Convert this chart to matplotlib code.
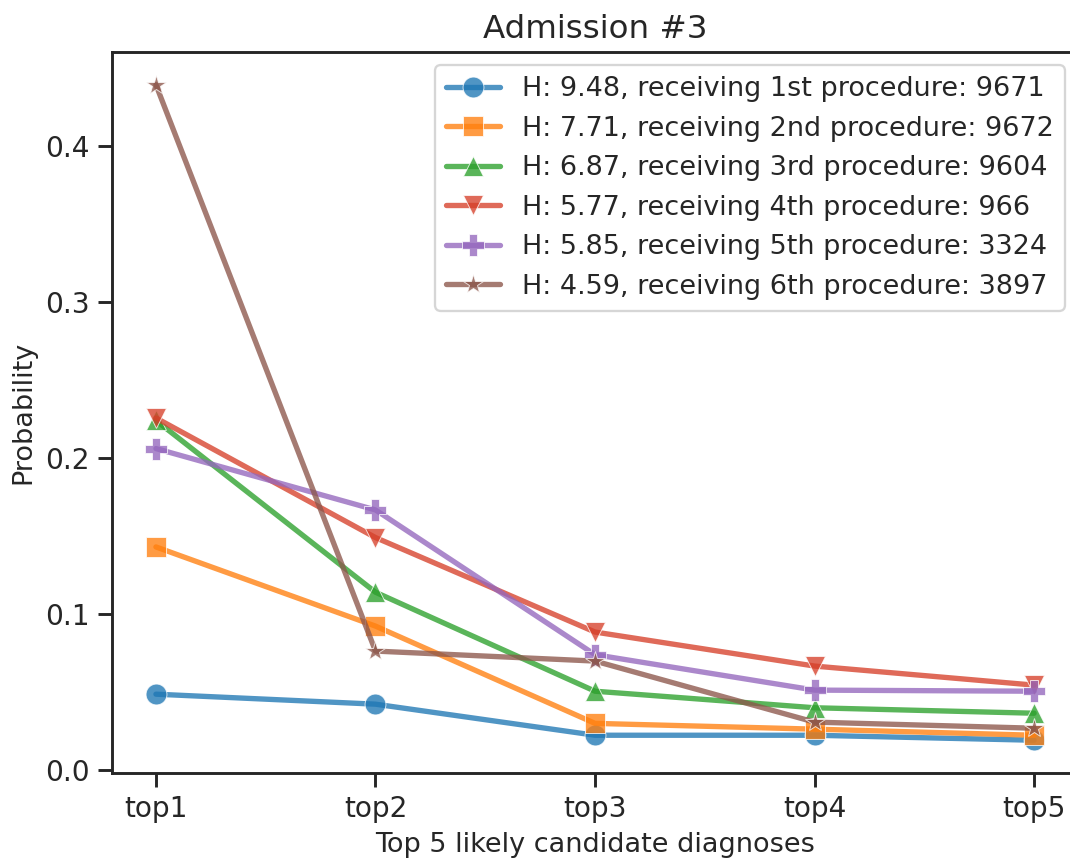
import numpy as np
import matplotlib
matplotlib.use("Agg")
import matplotlib.pyplot as plt
import seaborn as sns

sns.set_theme(style="ticks", context="notebook")
plt.rcParams['font.family'] = ['DejaVu Sans']

candidates = ['top1', 'top2', 'top3', 'top4', 'top5']
labels = [
    'H: 9.48, receiving 1st procedure: 9671',
    'H: 7.71, receiving 2nd procedure: 9672',
    'H: 6.87, receiving 3rd procedure: 9604',
    'H: 5.77, receiving 4th procedure: 966',
    'H: 5.85, receiving 5th procedure: 3324',
    'H: 4.59, receiving 6th procedure: 3897',
]
proc1 = [0.0487, 0.0423, 0.0224, 0.0224, 0.0192]
proc2 = [0.143, 0.0923, 0.0300, 0.0263, 0.0224]
proc3 = [0.224, 0.114, 0.0506, 0.0400, 0.0365]
proc4 = [0.2256, 0.149, 0.0885, 0.0667, 0.0545]
proc5 = [0.206, 0.1667, 0.0740, 0.0513, 0.0506]
proc6 = [0.439, 0.0763, 0.0699, 0.0308, 0.0269]
markers = ['o', 's', '^', 'v', 'P', '*']
colors = ['#1f77b4', '#ff7f0e', '#2ca02c', '#d6402a', '#9467bd', '#8c564b']
sizes = [9, 9, 9, 9, 9.5, 9]

series = [proc1, proc2, proc3, proc4, proc5, proc6]

fig = plt.figure(figsize=(1070/167, 859/167), dpi=167)
ax = fig.add_axes([0.1047, 0.1001, 1.0075 - 0.1047, 0.9395 - 0.1001])

x = np.arange(len(candidates))
for vals, lab, m, c, s in zip(series, labels, markers, colors, sizes):
    ax.plot(x, vals, marker=m, color=c, label=lab, linewidth=2.3,
            markersize=s, markeredgecolor='w', markeredgewidth=0.4,
            alpha=0.78)

ax.set_xticks(x)
ax.set_xticklabels(candidates)
ax.tick_params(labelsize=12.1)
ax.set_xlabel('Top 5 likely candidate diagnoses', fontsize=11.7)
ax.set_ylabel('Probability', fontsize=11.7)
ax.set_title('Admission #3', fontsize=14)
ax.legend(loc='upper right', fontsize=11.65)

fig.savefig('out.png', dpi=167)
